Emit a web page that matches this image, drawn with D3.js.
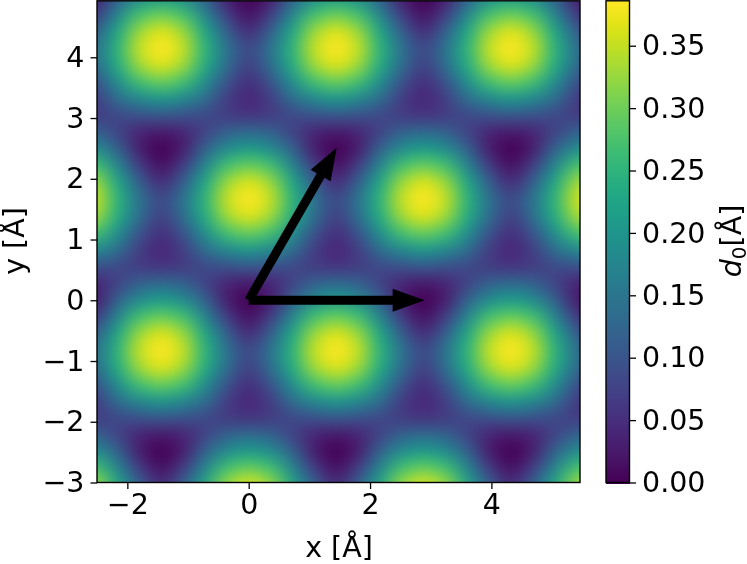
<!DOCTYPE html>
<html><head><meta charset="utf-8">
<script src="https://cdn.jsdelivr.net/npm/d3@7/dist/d3.min.js"></script>
<style>
html,body{margin:0;padding:0;background:#fff;width:747px;height:564px;overflow:hidden}
#c{position:absolute;left:0;top:0}
svg{position:absolute;left:0;top:0}
text{font-family:"DejaVu Sans";fill:#000}
</style></head><body>
<canvas id="c" width="747" height="564"></canvas>
<svg id="s" width="747" height="564"></svg>
<script>
// All grid values are estimates, in Angstrom.
const xTicks=[-2,0,2,4];
const yTicks=[-3,-2,-1,0,1,2,3,4];
const barTicks=[0,0.05,0.10,0.15,0.20,0.25,0.30,0.35];
const gridX=[-2.52,-2.16,-1.80,-1.44,-1.08,-0.72,-0.36,0,0.36,0.72,1.08,1.44,1.80,2.16,2.52,2.88,3.24,3.60,3.96,4.32,4.68,5.04,5.40,5.76];
const gridY=[4.98,4.70,4.43,4.15,3.87,3.60,3.32,3.04,2.77,2.49,2.21,1.94,1.66,1.38,1.11,0.83,0.55,0.28,0,-0.28,-0.55,-0.83,-1.11,-1.38,-1.66,-1.94,-2.21,-2.49,-2.77,-3.04];
const d0Grid=[
[.032,.120,.186,.212,.186,.120,.032,.000,.032,.120,.186,.212,.186,.120,.032,.000,.032,.120,.186,.212,.186,.120,.032,.000],
[.070,.176,.270,.298,.270,.176,.070,.018,.070,.176,.270,.298,.270,.176,.070,.018,.070,.176,.270,.298,.270,.176,.070,.018],
[.115,.228,.327,.365,.327,.228,.115,.050,.115,.228,.327,.365,.327,.228,.115,.050,.115,.228,.327,.365,.327,.228,.115,.050],
[.145,.250,.350,.386,.350,.250,.145,.085,.145,.250,.350,.386,.350,.250,.145,.085,.145,.250,.350,.386,.350,.250,.145,.085],
[.136,.237,.330,.365,.330,.237,.136,.075,.136,.237,.330,.365,.330,.237,.136,.075,.136,.237,.330,.365,.330,.237,.136,.075],
[.100,.190,.270,.298,.270,.190,.100,.053,.100,.190,.270,.298,.270,.190,.100,.053,.100,.190,.270,.298,.270,.190,.100,.053],
[.070,.138,.182,.203,.182,.138,.070,.042,.070,.138,.182,.203,.182,.138,.070,.042,.070,.138,.182,.203,.182,.138,.070,.042],
[.068,.085,.098,.105,.098,.085,.068,.060,.068,.085,.098,.105,.098,.085,.068,.060,.068,.085,.098,.105,.098,.085,.068,.060],
[.118,.078,.040,.028,.040,.078,.118,.132,.118,.078,.040,.028,.040,.078,.118,.132,.118,.078,.040,.028,.040,.078,.118,.132],
[.186,.120,.032,.000,.032,.120,.186,.212,.186,.120,.032,.000,.032,.120,.186,.212,.186,.120,.032,.000,.032,.120,.186,.212],
[.270,.176,.070,.018,.070,.176,.270,.298,.270,.176,.070,.018,.070,.176,.270,.298,.270,.176,.070,.018,.070,.176,.270,.298],
[.327,.228,.115,.050,.115,.228,.327,.365,.327,.228,.115,.050,.115,.228,.327,.365,.327,.228,.115,.050,.115,.228,.327,.365],
[.350,.250,.145,.085,.145,.250,.350,.386,.350,.250,.145,.085,.145,.250,.350,.386,.350,.250,.145,.085,.145,.250,.350,.386],
[.330,.237,.136,.075,.136,.237,.330,.365,.330,.237,.136,.075,.136,.237,.330,.365,.330,.237,.136,.075,.136,.237,.330,.365],
[.270,.190,.100,.053,.100,.190,.270,.298,.270,.190,.100,.053,.100,.190,.270,.298,.270,.190,.100,.053,.100,.190,.270,.298],
[.182,.138,.070,.042,.070,.138,.182,.203,.182,.138,.070,.042,.070,.138,.182,.203,.182,.138,.070,.042,.070,.138,.182,.203],
[.098,.085,.068,.060,.068,.085,.098,.105,.098,.085,.068,.060,.068,.085,.098,.105,.098,.085,.068,.060,.068,.085,.098,.105],
[.040,.078,.118,.132,.118,.078,.040,.028,.040,.078,.118,.132,.118,.078,.040,.028,.040,.078,.118,.132,.118,.078,.040,.028],
[.032,.120,.186,.212,.186,.120,.032,.000,.032,.120,.186,.212,.186,.120,.032,.000,.032,.120,.186,.212,.186,.120,.032,.000],
[.070,.176,.270,.298,.270,.176,.070,.018,.070,.176,.270,.298,.270,.176,.070,.018,.070,.176,.270,.298,.270,.176,.070,.018],
[.115,.228,.327,.365,.327,.228,.115,.050,.115,.228,.327,.365,.327,.228,.115,.050,.115,.228,.327,.365,.327,.228,.115,.050],
[.145,.250,.350,.386,.350,.250,.145,.085,.145,.250,.350,.386,.350,.250,.145,.085,.145,.250,.350,.386,.350,.250,.145,.085],
[.136,.237,.330,.365,.330,.237,.136,.075,.136,.237,.330,.365,.330,.237,.136,.075,.136,.237,.330,.365,.330,.237,.136,.075],
[.100,.190,.270,.298,.270,.190,.100,.053,.100,.190,.270,.298,.270,.190,.100,.053,.100,.190,.270,.298,.270,.190,.100,.053],
[.070,.138,.182,.203,.182,.138,.070,.042,.070,.138,.182,.203,.182,.138,.070,.042,.070,.138,.182,.203,.182,.138,.070,.042],
[.068,.085,.098,.105,.098,.085,.068,.060,.068,.085,.098,.105,.098,.085,.068,.060,.068,.085,.098,.105,.098,.085,.068,.060],
[.118,.078,.040,.028,.040,.078,.118,.132,.118,.078,.040,.028,.040,.078,.118,.132,.118,.078,.040,.028,.040,.078,.118,.132],
[.186,.120,.032,.000,.032,.120,.186,.212,.186,.120,.032,.000,.032,.120,.186,.212,.186,.120,.032,.000,.032,.120,.186,.212],
[.270,.176,.070,.018,.070,.176,.270,.298,.270,.176,.070,.018,.070,.176,.270,.298,.270,.176,.070,.018,.070,.176,.270,.298],
[.327,.228,.115,.050,.115,.228,.327,.365,.327,.228,.115,.050,.115,.228,.327,.365,.327,.228,.115,.050,.115,.228,.327,.365]
];
const arrowTips=[[2.90,0],[1.45,2.51]];
const arrowTail=[0,0];
const d0Max=0.386;

const L=97,R=580,T=0.8,B=482.5;
const FS=28.5;
const x=d3.scaleLinear().domain([-2.5,5.46]).range([L,R]);
const y=d3.scaleLinear().domain([-3,4.93]).range([B,T]);
const color=d3.scaleSequential(d3.interpolateViridis).domain([0,d0Max]);

// heat map: grid values -> small image -> smoothly scaled into the axes
const nx=gridX.length,ny=gridY.length;
const off=document.createElement('canvas');off.width=nx;off.height=ny;
const octx=off.getContext('2d');
const img=octx.createImageData(nx,ny);
d0Grid.forEach((row,j)=>row.forEach((v,i)=>{
  const c=d3.rgb(color(v));const k=4*(j*nx+i);
  img.data[k]=c.r;img.data[k+1]=c.g;img.data[k+2]=c.b;img.data[k+3]=255;
}));
octx.putImageData(img,0,0);
const ctx=document.getElementById('c').getContext('2d');
ctx.fillStyle='#fff';ctx.fillRect(0,0,747,564);
ctx.save();ctx.beginPath();ctx.rect(L,T,R-L,B-T);ctx.clip();
ctx.imageSmoothingEnabled=true;ctx.imageSmoothingQuality='high';
ctx.filter='blur(4px)';
const hx=(gridX[1]-gridX[0])/2,hy=(gridY[0]-gridY[1])/2;
const ix0=x(gridX[0]-hx),ix1=x(gridX[nx-1]+hx),iy0=y(gridY[0]+hy),iy1=y(gridY[ny-1]-hy);
ctx.drawImage(off,ix0,iy0,ix1-ix0,iy1-iy0);
ctx.restore();

const svg=d3.select('#s');
// arrows
const shaftW=9,headW=23,headL=32;
arrowTips.forEach(tip=>{
  const x0=x(arrowTail[0]),y0=y(arrowTail[1]),x1=x(tip[0]),y1=y(tip[1]);
  const len=Math.hypot(x1-x0,y1-y0),ux=(x1-x0)/len,uy=(y1-y0)/len,nxx=-uy,nyy=ux;
  const bx=x1-ux*headL,by=y1-uy*headL;
  const p=[[x0+nxx*shaftW/2,y0+nyy*shaftW/2],[bx+nxx*shaftW/2,by+nyy*shaftW/2],[bx+nxx*headW/2,by+nyy*headW/2],[x1,y1],
           [bx-nxx*headW/2,by-nyy*headW/2],[bx-nxx*shaftW/2,by-nyy*shaftW/2],[x0-nxx*shaftW/2,y0-nyy*shaftW/2]];
  svg.append('path').attr('d',d3.line()(p)+'Z').attr('fill','#000');
});

function styleAxis(g){
  g.selectAll('text').style('font-family','"DejaVu Sans"').style('font-size',FS+'px').attr('fill','#000');
  g.selectAll('line').attr('stroke','#000').attr('stroke-width',1.3);
  g.select('.domain').remove();
}
const fmtInt=d=>String(d).replace('-','\u2212');
svg.append('g').attr('transform',`translate(0,${B})`)
  .call(d3.axisBottom(x).tickValues(xTicks).tickFormat(fmtInt).tickSize(6.5).tickPadding(5)).call(styleAxis);
svg.append('g').attr('transform',`translate(${L},0)`)
  .call(d3.axisLeft(y).tickValues(yTicks).tickFormat(fmtInt).tickSize(6.5).tickPadding(6)).call(styleAxis);
svg.append('rect').attr('x',L).attr('y',T).attr('width',R-L).attr('height',B-T)
  .attr('fill','none').attr('stroke','#000').attr('stroke-width',1.4);

// colour bar
const CL=606,CR=629.5;
const cy=d3.scaleLinear().domain([0,d0Max]).range([B,T]);
const steps=d3.range(256);
svg.append('g').attr('shape-rendering','crispEdges').selectAll('rect').data(steps).join('rect')
  .attr('x',CL).attr('width',CR-CL)
  .attr('y',i=>cy((i+1)/256*d0Max))
  .attr('height',i=>cy(i/256*d0Max)-cy((i+1)/256*d0Max)+1)
  .attr('fill',i=>color((i+0.5)/256*d0Max));
svg.append('rect').attr('x',CL).attr('y',T).attr('width',CR-CL).attr('height',B-T)
  .attr('fill','none').attr('stroke','#000').attr('stroke-width',1.4);
svg.append('g').attr('transform',`translate(${CR},0)`)
  .call(d3.axisRight(cy).tickValues(barTicks).tickFormat(d3.format('.2f')).tickSize(6.5).tickPadding(6)).call(styleAxis);

// axis titles
svg.append('text').attr('x',339).attr('y',557).attr('text-anchor','middle').style('font-size',FS+'px').text('x [Å]');
svg.append('text').attr('transform','translate(24,241) rotate(-90)').attr('text-anchor','middle').style('font-size',FS+'px').text('y [Å]');
const t=svg.append('text').attr('transform','translate(741,241) rotate(-90)').attr('text-anchor','middle').style('font-size',FS+'px');
t.append('tspan').style('font-style','italic').text('d');
t.append('tspan').attr('dy',5).style('font-size',(FS*0.7)+'px').text('0');
t.append('tspan').attr('dy',-5).text('[Å]');
</script></body></html>
